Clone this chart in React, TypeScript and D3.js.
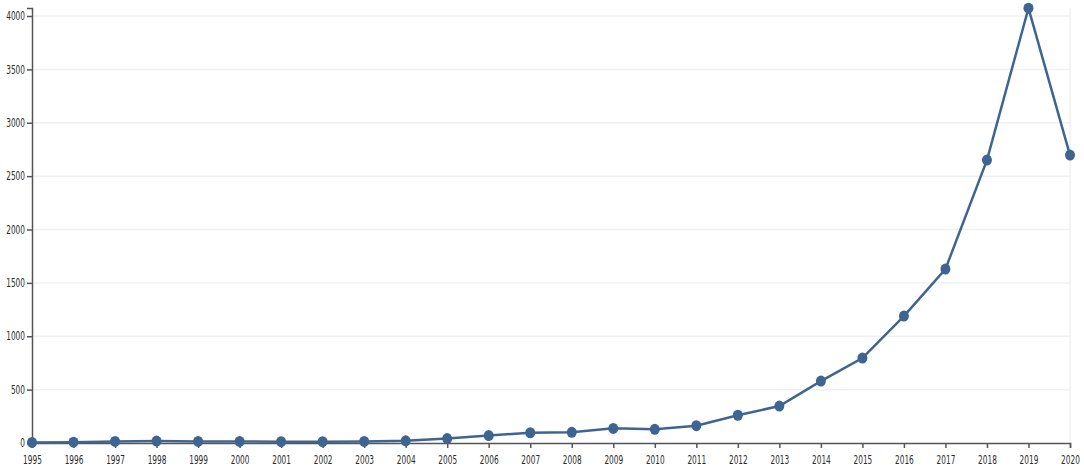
import { useEffect, useRef } from "react";
import * as d3 from "d3";

const years = [
  1995, 1996, 1997, 1998, 1999, 2000, 2001, 2002, 2003, 2004, 2005, 2006, 2007,
  2008, 2009, 2010, 2011, 2012, 2013, 2014, 2015, 2016, 2017, 2018, 2019, 2020,
];
const counts = [
  5, 8, 15, 18, 15, 15, 12, 12, 15, 20, 42, 70, 96, 100, 137, 128, 162, 260,
  346, 580, 796, 1189, 1629, 2650, 4073, 2697,
];
const yTicks = [0, 500, 1000, 1500, 2000, 2500, 3000, 3500, 4000];

export default function App() {
  const ref = useRef<SVGSVGElement>(null);

  useEffect(() => {
    const svg = d3.select(ref.current);
    svg.selectAll("*").remove();

    const width = 1084;
    const height = 468;
    const margin = { top: 8, right: 14, bottom: 25, left: 32 };
    const innerWidth = width - margin.left - margin.right;
    const innerHeight = height - margin.top - margin.bottom;
    const font = "'DejaVu Sans', sans-serif";

    const x = d3
      .scaleLinear()
      .domain([years[0], years[years.length - 1]])
      .range([0, innerWidth]);

    const y = d3.scaleLinear().domain([0, 4075]).range([innerHeight, 0]);

    const g = svg
      .append("g")
      .attr("transform", `translate(${margin.left},${margin.top})`);

    // grid
    g.append("g")
      .selectAll("line")
      .data(yTicks.slice(1))
      .join("line")
      .attr("x1", 0)
      .attr("x2", innerWidth)
      .attr("y1", (d) => y(d))
      .attr("y2", (d) => y(d))
      .attr("stroke", "#f0f0f0")
      .attr("stroke-width", 1.5);

    g.append("line")
      .attr("x1", innerWidth)
      .attr("x2", innerWidth)
      .attr("y1", 0)
      .attr("y2", innerHeight)
      .attr("stroke", "#f0f0f0")
      .attr("stroke-width", 1.5);

    const xAxis = g
      .append("g")
      .attr("transform", `translate(0,${innerHeight})`)
      .call(
        d3
          .axisBottom(x)
          .tickValues(years)
          .tickFormat(d3.format("d"))
          .tickSize(5)
          .tickSizeOuter(5)
      );

    const yAxis = g.append("g").call(
      d3
        .axisLeft(y)
        .tickValues(yTicks)
        .tickFormat(d3.format("d"))
        .tickSize(5)
        .tickSizeOuter(5)
    );

    [xAxis, yAxis].forEach((a) => {
      a.selectAll("path, line").attr("stroke", "#555").attr("stroke-width", 1.5);
      a.selectAll<SVGTextElement, number>("text")
        .attr("fill", "#2b2b2b")
        .attr("textLength", function () {
          return (this.textContent || "").length * 4.7;
        })
        .attr("lengthAdjust", "spacingAndGlyphs")
        .style("font-family", font)
        .style("font-size", "11.5px");
    });
    xAxis.selectAll("text").attr("dy", "1.1em");
    yAxis.selectAll("text").attr("x", -7);

    const line = d3
      .line<number>()
      .x((d, i) => x(years[i]))
      .y((d) => y(d));

    g.append("path")
      .datum(counts)
      .attr("d", line)
      .attr("fill", "none")
      .attr("stroke", "#3e6591")
      .attr("stroke-width", 2.5);

    g.selectAll("ellipse")
      .data(counts)
      .join("ellipse")
      .attr("cx", (d, i) => x(years[i]))
      .attr("cy", (d) => y(d))
      .attr("rx", 5)
      .attr("ry", 5.5)
      .attr("fill", "#3e6591");
  }, []);

  return (
    <div style={{ position: "fixed", left: 0, top: 0, background: "#fff" }}>
      <svg ref={ref} width={1084} height={468} style={{ display: "block" }} />
    </div>
  );
}
